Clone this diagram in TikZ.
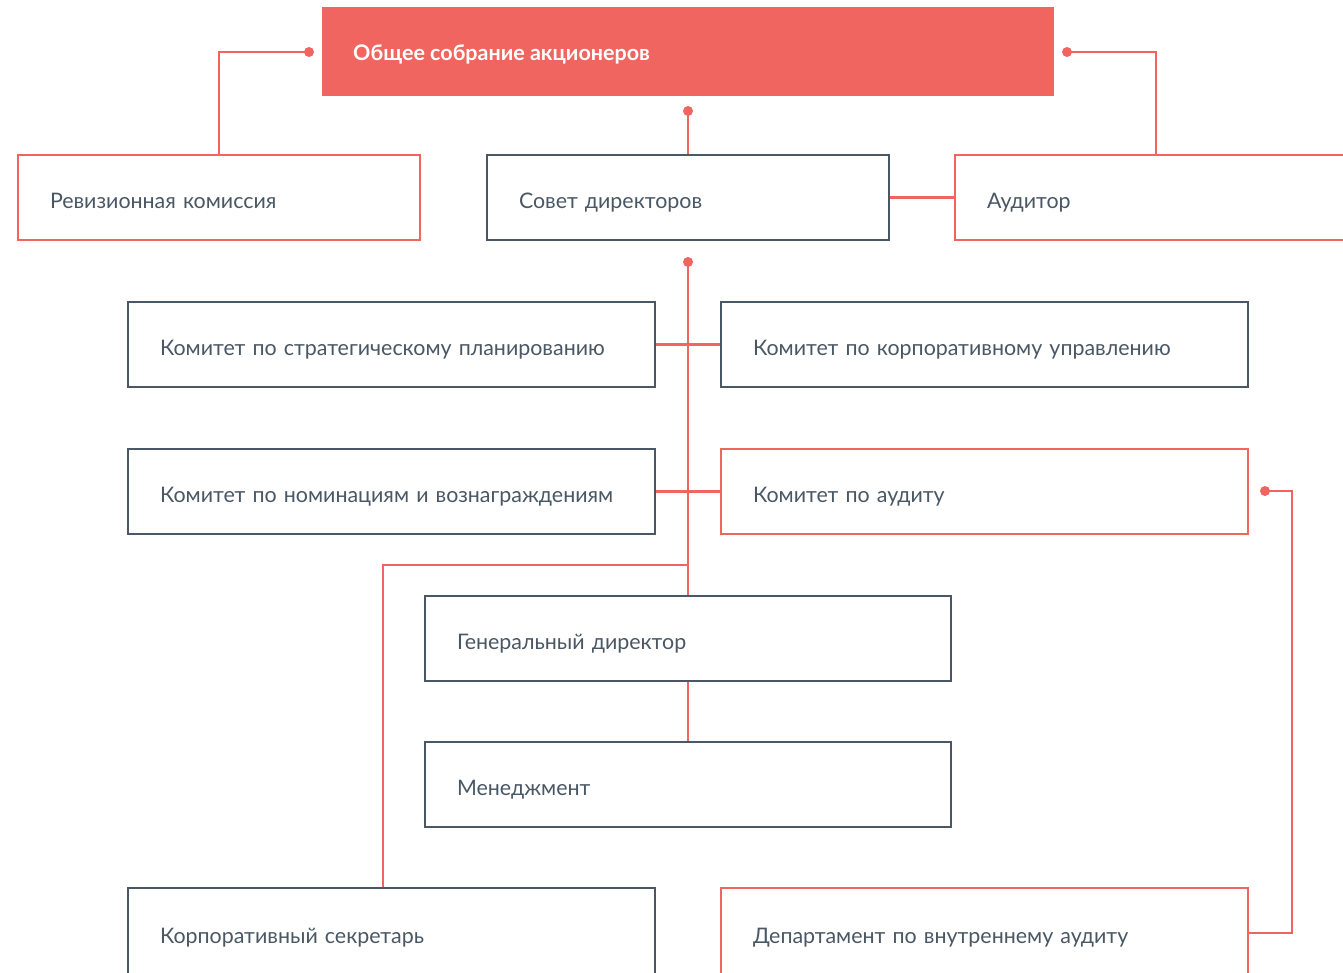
\documentclass[tikz,border=0pt]{standalone}
\usepackage{fontspec}
\setmainfont{Lato}
\definecolor{coral}{HTML}{F0655F}
\definecolor{slate}{HTML}{4A5764}
\tikzset{
  boxbase/.style={line width=2.6pt, fill=white, inner ysep=0pt, inner xsep=32pt, align=left,
    font=\fontsize{21.4}{25}\selectfont, text=slate, minimum height=85pt,
    text height=21.4pt, text depth=0pt},
  darkbox/.style={boxbase, draw=slate},
  redbox/.style={boxbase, draw=coral},
  conn/.style={draw=coral, line width=2.3pt},
  dot/.style={fill=coral, draw=none}
}
\begin{document}
\begin{tikzpicture}[x=1pt,y=-1pt]
\useasboundingbox (0,0) rectangle (1343,973);
% nodes
\node[fill=coral, minimum width=732pt, minimum height=89pt, inner sep=0pt] (top) at (688,51.5) {};
\node[anchor=west, text=white, font=\fontsize{21.5}{25}\selectfont\bfseries, inner sep=0pt,
  text height=17.4pt, text depth=0pt] (toptext) at (353,52) {Общее собрание акционеров};
\node[redbox, text width=338pt] (rev) at (219,197.5) {Ревизионная комиссия};
\node[darkbox, text width=338pt] (sov) at (688,197.5) {Совет директоров};
\node[redbox, text width=338pt] (aud) at (1156,197.5) {Аудитор};
\node[darkbox, text width=463pt] (strat) at (391.5,344.5) {Комитет по стратегическому планированию};
\node[darkbox, text width=463pt] (corp) at (984.5,344.5) {Комитет по корпоративному управлению};
\node[darkbox, text width=463pt] (nom) at (391.5,491.5) {Комитет по номинациям и вознаграждениям};
\node[redbox, text width=463pt] (acom) at (984.5,491.5) {Комитет по аудиту};
\node[darkbox, text width=462pt] (gen) at (688,638.5) {Генеральный директор};
\node[darkbox, text width=462pt] (men) at (688,784.5) {Менеджмент};
\node[darkbox, text width=463pt, minimum height=90pt] (secr) at (391.5,933) {Корпоративный секретарь};
\node[redbox, text width=463pt, minimum height=90pt] (dept) at (984.5,933) {Департамент по внутреннему аудиту};
% connector points
\coordinate (d1) at (309,52);
\coordinate (d2) at (688,111);
\coordinate (d3) at (1067,52);
\coordinate (d4) at (688,262);
\coordinate (j1) at (688,565);
\coordinate (d5) at (1265,491);
\coordinate (k1) at (1292,491);
% connectors
\path[conn] (d1) -| (rev.north);
\path[conn] (d2) -- (sov.north);
\path[conn] (d3) -| (aud.north);
\path[conn] (sov.east) -- (aud.west);
\path[conn] (d4) -- (gen.north);
\path[conn] (strat.east) -- (corp.west);
\path[conn] (nom.east) -- (acom.west);
\path[conn] (j1) -| ([xshift=-8.5pt]secr.north);
\path[conn] (gen.south) -- (men.north);
\path[conn] (d5) -- (k1) |- (dept.east);
\foreach \d in {d1,d2,d3,d4,d5} \fill[dot] (\d) circle (5pt);
\end{tikzpicture}
\end{document}
